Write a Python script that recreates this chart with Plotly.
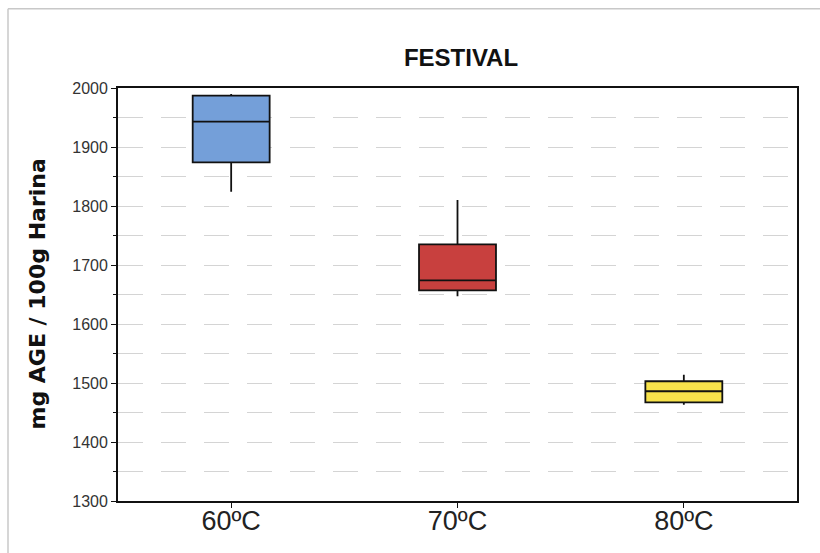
import plotly.graph_objects as go

# Drying temperature groups and box statistics (mg AGE / 100 g harina)
temperatures = ["60ºC", "70ºC", "80ºC"]
lower_whisker = [1824, 1647, 1463]
q1_values = [1874, 1657, 1467]
medians = [1943, 1674, 1486]
q3_values = [1987, 1735, 1503]
upper_whisker = [1990, 1810, 1514]
fill_colors = ["#749fd9", "#c8403e", "#f7e24b"]

y_ticks = [1300, 1400, 1500, 1600, 1700, 1800, 1900, 2000]

fig = go.Figure()
for i, temp in enumerate(temperatures):
    fig.add_trace(go.Box(
        x=[temp],
        q1=[q1_values[i]],
        median=[medians[i]],
        q3=[q3_values[i]],
        lowerfence=[lower_whisker[i]],
        upperfence=[upper_whisker[i]],
        fillcolor=fill_colors[i],
        line=dict(color="#111111", width=1.8),
        whiskerwidth=0,
        width=0.34,
        showlegend=False,
        hoverinfo="skip",
    ))

fig.update_layout(
    width=820,
    height=553,
    margin=dict(l=118, r=23, t=88, b=52),
    paper_bgcolor="white",
    plot_bgcolor="white",
    font=dict(family="Liberation Sans, Arial, sans-serif", color="#222222"),
    title=dict(
        text="<b>FESTIVAL</b>",
        x=461 / 820, xref="container", xanchor="center",
        y=1 - 58 / 553, yref="container", yanchor="middle",
        font=dict(size=24, color="#111111", family="Liberation Sans, Arial, sans-serif"),
    ),
    xaxis=dict(
        type="category",
        range=[-0.5, 2.5],
        automargin=False,
        showline=True, linecolor="#111111", linewidth=1.8, mirror=True,
        ticks="outside", ticklen=5, tickcolor="#111111",
        ticklabelstandoff=-10,
        tickfont=dict(size=27, color="#222222"),
        showgrid=False, zeroline=False,
    ),
    yaxis=dict(
        range=[1300, 2000],
        tickvals=y_ticks,
        automargin=False,
        showline=True, linecolor="#111111", linewidth=1.8, mirror=True,
        ticks="outside", ticklen=5, tickcolor="#111111",
        tickfont=dict(size=16, color="#333333"),
        showgrid=True, gridcolor="#d4d4d4", gridwidth=1, griddash="25px,18px",
        zeroline=False,
        minor=dict(
            dtick=50, tick0=1300, ticks="outside", ticklen=3, tickcolor="#111111",
            showgrid=True, gridcolor="#d4d4d4", gridwidth=1, griddash="25px,18px",
        ),
    ),
    annotations=[
        dict(
            text="<b>mg AGE / 100g Harina</b>",
            xref="paper", yref="paper",
            x=(37 - 118) / 679, y=0.5,
            xanchor="center", yanchor="middle",
            textangle=-90, showarrow=False,
            font=dict(size=22, color="#111111", family="DejaVu Sans, sans-serif"),
        ),
    ],
    shapes=[
        # thin frame around the chart image (top and left edges)
        dict(type="line", xref="paper", yref="paper",
             x0=-0.162, x1=1.05, y0=1.1917, y1=1.1917,
             line=dict(color="#c8c8c8", width=1.5)),
        dict(type="line", xref="paper", yref="paper",
             x0=-0.162, x1=-0.162, y0=-0.2, y1=1.1917,
             line=dict(color="#c8c8c8", width=1.5)),
    ],
)

fig.write_html("out.html")
